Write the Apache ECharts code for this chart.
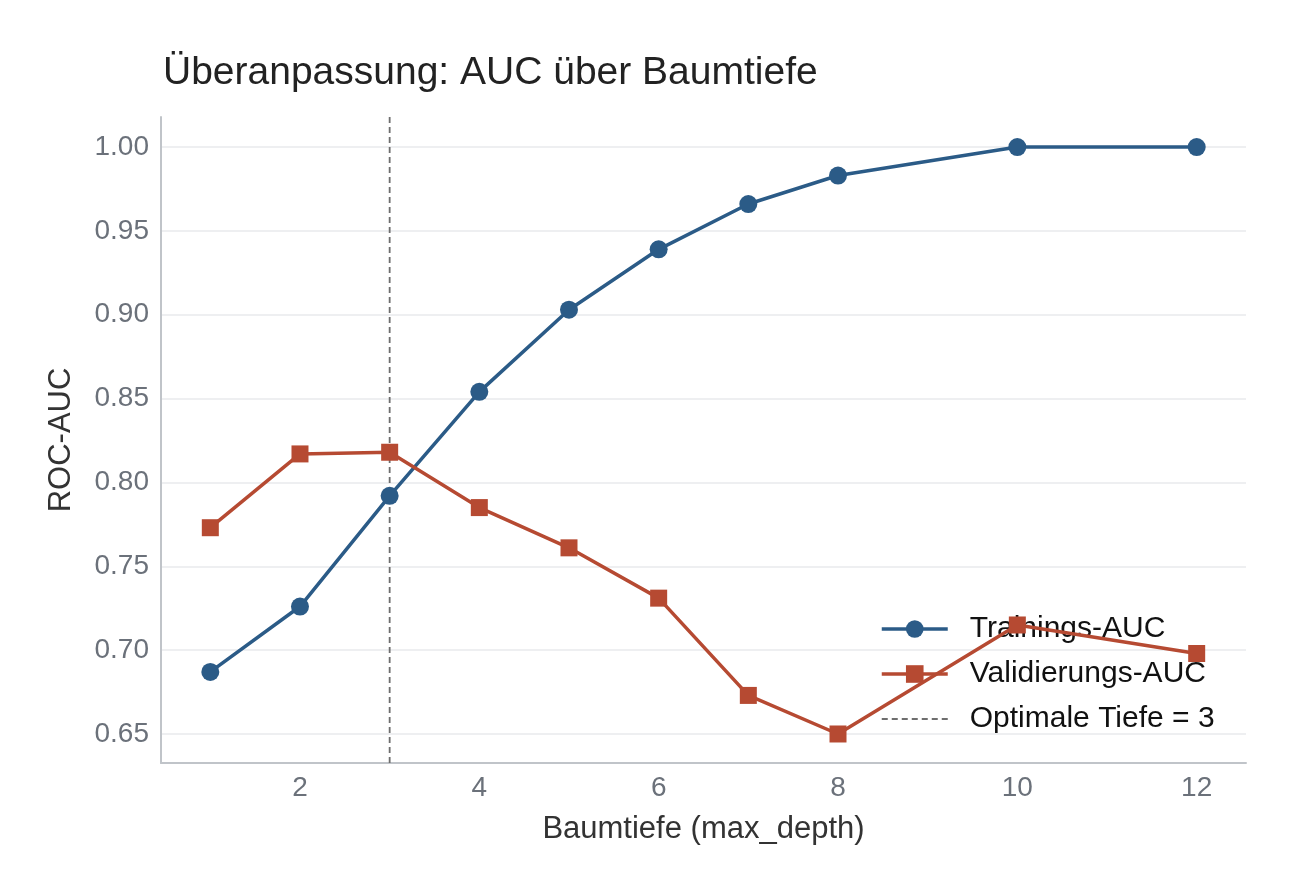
<!DOCTYPE html>
<html>
<head>
<meta charset="utf-8">
<script src="https://cdn.jsdelivr.net/npm/echarts@6/dist/echarts.min.js"></script>
<style>
  html, body { margin: 0; padding: 0; background: #fff; }
  #chart { width: 1296px; height: 895px; }
</style>
</head>
<body>
<div id="chart"></div>
<script>
// Baumtiefe (x) und AUC-Werte
var depths = [1, 2, 3, 4, 5, 6, 7, 8, 10, 12];
var trainAuc = [0.687, 0.726, 0.792, 0.854, 0.903, 0.939, 0.966, 0.983, 1.000, 1.000];
var validAuc = [0.773, 0.817, 0.818, 0.785, 0.761, 0.731, 0.673, 0.650, 0.715, 0.698];
var optimalDepth = 3;
var xTicks = [2, 4, 6, 8, 10, 12];
var yTicks = [0.65, 0.70, 0.75, 0.80, 0.85, 0.90, 0.95, 1.00];
var xRange = [0.45, 12.55];
var yRange = [0.6327, 1.0179];

function pairs(xs, ys) {
  return xs.map(function (x, i) { return [x, ys[i]]; });
}

var font = 'Liberation Sans, Arial, sans-serif';
var chart = echarts.init(document.getElementById('chart'));

chart.setOption({
  backgroundColor: '#ffffff',
  animation: false,
  title: {
    text: 'Überanpassung: AUC über Baumtiefe',
    left: 158,
    top: 49,
    textStyle: { fontFamily: font, fontSize: 39, fontWeight: 'normal', color: '#222222' }
  },
  legend: {
    orient: 'vertical',
    left: 875,
    top: 609,
    z: 1,
    itemWidth: 66,
    itemHeight: 22,
    itemGap: 15,
    lineStyle: { width: 'inherit' },
    data: ['Trainings-AUC', 'Validierungs-AUC', 'Optimale Tiefe = 3'],
    textStyle: { fontFamily: font, fontSize: 30, color: '#111111', padding: [0, 0, 0, 17] }
  },
  grid: { left: 161, right: 50, top: 117, bottom: 132 },
  xAxis: {
    type: 'value',
    min: xRange[0],
    max: xRange[1],
    name: 'Baumtiefe (max_depth)',
    nameLocation: 'middle',
    nameGap: 51,
    nameTextStyle: { fontFamily: font, fontSize: 31, color: '#333333' },
    axisLine: { show: true, lineStyle: { color: '#c0c4c9', width: 2 } },
    axisTick: { show: false, customValues: xTicks },
    axisLabel: { customValues: xTicks, margin: 11, fontFamily: font, fontSize: 28, color: '#6b717a' },
    splitLine: { show: false }
  },
  yAxis: {
    type: 'value',
    min: yRange[0],
    max: yRange[1],
    name: 'ROC-AUC',
    nameLocation: 'middle',
    nameGap: 84,
    nameTextStyle: { fontFamily: font, fontSize: 31, color: '#333333' },
    axisLine: { show: true, lineStyle: { color: '#c0c4c9', width: 2 } },
    axisTick: { show: false, customValues: yTicks },
    axisLabel: {
      customValues: yTicks, margin: 12, fontFamily: font, fontSize: 28, color: '#6b717a',
      formatter: function (v) { return v.toFixed(2); }
    },
    splitLine: { show: true, lineStyle: { color: '#e8eaed', width: 1.5 } }
  },
  series: [
    {
      name: 'Optimale Tiefe = 3',
      type: 'line',
      z: 1,
      symbol: 'none',
      silent: true,
      data: [[optimalDepth, yRange[0]], [optimalDepth, yRange[1]]],
      lineStyle: { color: '#6e6e6e', width: 1.8, type: [6, 4] },
      itemStyle: { color: 'rgba(0,0,0,0)' }
    },
    {
      name: 'Trainings-AUC',
      type: 'line',
      z: 3,
      data: pairs(depths, trainAuc),
      symbol: 'circle',
      symbolSize: 18,
      lineStyle: { color: '#2b5b87', width: 3.5 },
      itemStyle: { color: '#2b5b87' }
    },
    {
      name: 'Validierungs-AUC',
      type: 'line',
      z: 3,
      data: pairs(depths, validAuc),
      symbol: 'rect',
      symbolSize: 17,
      lineStyle: { color: '#b64a32', width: 3.5 },
      itemStyle: { color: '#b64a32' }
    }
  ]
});
</script>
</body>
</html>
